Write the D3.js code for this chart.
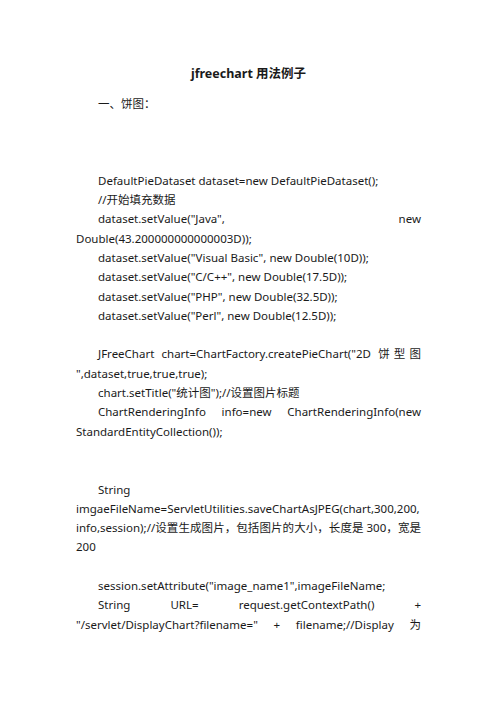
<!DOCTYPE html>
<html>
<head>
<meta charset="utf-8">
<script type="text/javascript" src="https://cdn.jsdelivr.net/npm/d3@7"></script>
<title>jfreechart 用法例子</title>
<style>
body { margin:0; background:#fff; }
</style>
</head>
<body>

<div id="page"></div>

<script type="text/javascript">
(function(){

var w = 496, h = 702;

var title = "jfreechart 用法例子";

// one entry per text row, "" is an empty row, \u3000\u3000 = first-line indent
var lines = [
  "\u3000\u3000一、饼图：",
  "",
  "",
  "",
  "\u3000\u3000DefaultPieDataset dataset=new DefaultPieDataset();",
  "\u3000\u3000//开始填充数据",
  "\u3000\u3000dataset.setValue(\"Java\", new",
  "Double(43.200000000000003D));",
  "\u3000\u3000dataset.setValue(\"Visual Basic\", new Double(10D));",
  "\u3000\u3000dataset.setValue(\"C/C++\", new Double(17.5D));",
  "\u3000\u3000dataset.setValue(\"PHP\", new Double(32.5D));",
  "\u3000\u3000dataset.setValue(\"Perl\", new Double(12.5D));",
  "",
  "\u3000\u3000JFreeChart chart=ChartFactory.createPieChart(\"2D 饼型图",
  "\",dataset,true,true,true);",
  "\u3000\u3000chart.setTitle(\"统计图\");//设置图片标题",
  "\u3000\u3000ChartRenderingInfo info=new ChartRenderingInfo(new",
  "StandardEntityCollection());",
  "",
  "",
  "\u3000\u3000String",
  "imgaeFileName=ServletUtilities.saveChartAsJPEG(chart,300,200,",
  "info,session);//设置生成图片，包括图片的大小，长度是 300，宽是",
  "200",
  "",
  "\u3000\u3000session.setAttribute(\"image_name1\",imageFileName;",
  "\u3000\u3000String URL= request.getContextPath() +",
  "\"/servlet/DisplayChart?filename=\" + filename;//Display 为"
];

// rows that wrap onto the next row (spread to the full column width)
var wrapped = [6, 13, 16, 22, 26, 27];

var font = "'Noto Sans', 'Noto Sans CJK SC', sans-serif";
var fontSize = 11.5;
var cjk = /[\u3000-\u303f\u4e00-\u9fff\uff00-\uffef]/;

var svg = d3.select("#page").append("svg")
    .attr("width", w)
    .attr("height", h);

svg.append("rect")
   .attr("width", w).attr("height", h)
   .attr("fill", "#fff");

var y = d3.scaleLinear()
    .domain([0, lines.length - 1])
    .range([103, 103 + (lines.length - 1) * 19.3]);

var x = d3.scaleLinear()
    .domain([0, 1])
    .range([76, 421]);

var indentW = 22;

svg.append("text")
   .attr("x", (x(0) + x(1)) / 2)
   .attr("y", 73)
   .attr("text-anchor", "middle")
   .attr("dominant-baseline", "central")
   .attr("font-family", font)
   .attr("font-size", 12.5)
   .attr("font-weight", "bold")
   .attr("fill", "#1a1a1a")
   .text(title);

// width of one space in the body font
var probe = svg.append("text").attr("font-family", font).attr("font-size", fontSize)
   .style("white-space", "pre").text("x x");
var spaceW = probe.node().getComputedTextLength();
probe.text("xx");
spaceW -= probe.node().getComputedTextLength();
probe.remove();

// split a row into pieces: break at spaces and around every CJK character
function pieces(txt) {
  var out = [];
  txt.split(" ").forEach(function(word, wi) {
    var cur = "", first = true;
    for (var k = 0; k < word.length; k++) {
      var c = word[k];
      if (cjk.test(c)) {
        if (cur) { out.push({t: cur, gap: first ? (wi ? "space" : "none") : "cjk"}); first = false; }
        out.push({t: c, gap: first ? (wi ? "space" : "none") : "cjk"}); first = false;
        cur = "";
      } else {
        cur += c;
      }
    }
    if (cur) out.push({t: cur, gap: first ? (wi ? "space" : "none") : "cjk"});
  });
  return out;
}

var rows = svg.selectAll("g.row")
   .data(lines)
   .enter()
     .append("g")
     .attr("class", "row")
     .attr("transform", function(d, i) { return "translate(0," + y(i) + ")"; });

rows.each(function(d, i) {
  var indent = d.indexOf("\u3000\u3000") === 0;
  var txt = indent ? d.slice(2) : d;
  if (!txt) return;
  var parts = pieces(txt);
  var items = d3.select(this).selectAll("text")
     .data(parts)
     .enter()
       .append("text")
       .attr("dominant-baseline", "central")
       .attr("font-family", font)
       .attr("font-size", fontSize)
       .attr("fill", "#1a1a1a")
       .text(function(p) { return p.t; });

  var widths = [];
  items.each(function() { widths.push(this.getComputedTextLength()); });
  var left = x(0) + (indent ? indentW : 0);
  var natural = 0, nGaps = 0;
  parts.forEach(function(p, k) {
    natural += widths[k];
    if (p.gap === "space") natural += spaceW;
    if (p.gap !== "none") nGaps++;
  });
  var extra = 0;
  if (wrapped.indexOf(i) >= 0 && nGaps > 0) {
    extra = Math.max(0, (x(1) - left - natural) / nGaps);
  }
  var pos = left;
  items.attr("x", function(p, k) {
    if (p.gap === "space") pos += spaceW;
    if (p.gap !== "none") pos += extra;
    var at = pos;
    pos += widths[k];
    return at;
  });
});

})();
</script>

</body>
</html>
